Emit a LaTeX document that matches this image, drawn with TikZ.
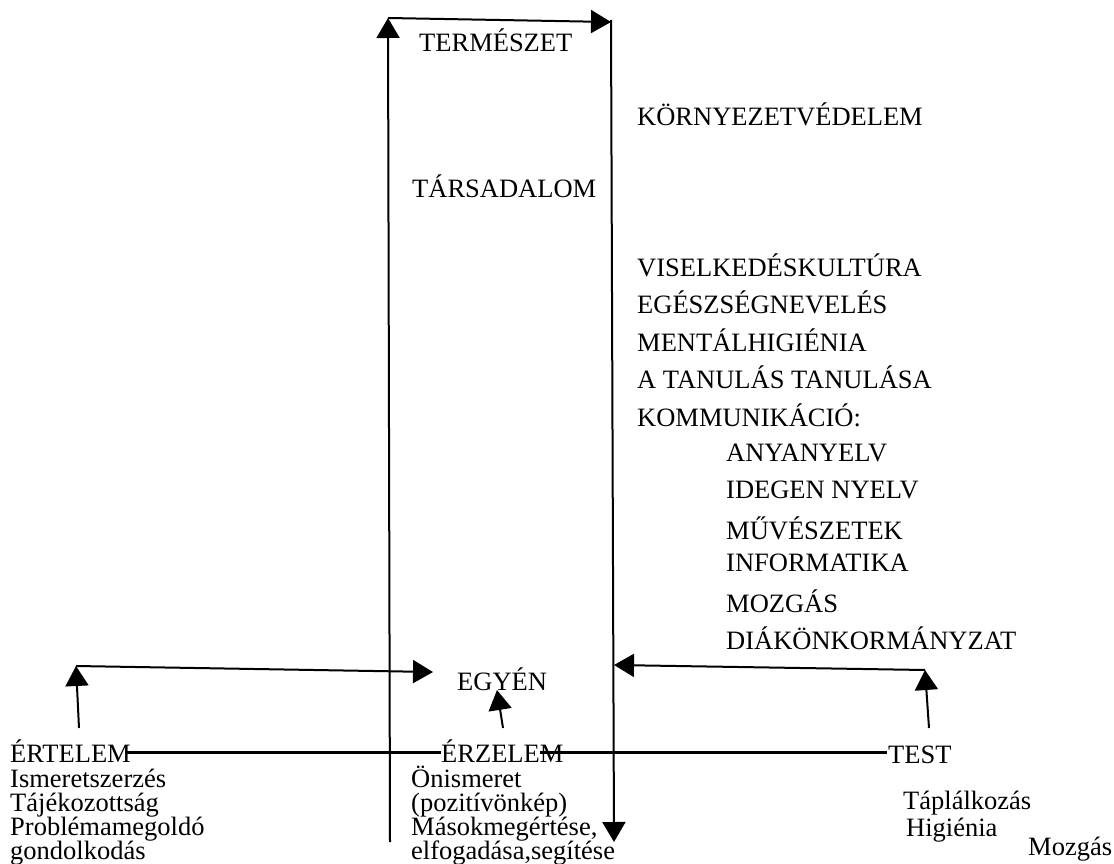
\documentclass[tikz,border=0pt]{standalone}
\usepackage{fontspec}
\setmainfont{Liberation Serif}
\usetikzlibrary{arrows.meta}
\begin{document}
\begin{tikzpicture}[x=1pt,y=-1pt,
  lbl/.style={anchor=base west,inner sep=0pt,font=\fontsize{26.5}{28}\selectfont},
  arr/.style={line width=2pt,-{Triangle[length=20pt,width=23pt]}},
  thick line/.style={line width=3pt}]
\useasboundingbox (0,0) rectangle (1114,864);
% top frame
\coordinate (lb) at (390,842);
\coordinate (lt) at (388,18);
\coordinate (ts) at (388,18);
\coordinate (te) at (611,22);
\coordinate (rt) at (611,20);
\coordinate (rb) at (614,842);
\draw[arr] (lb) -- (lt);
\draw[arr] (ts) -- (te);
\draw[arr] (rt) -- (rb);
% texts
\node[lbl] (termeszet) at (419,52) {TERMÉSZET};
\node[lbl] (kornyezet) at (637,126) {KÖRNYEZETVÉDELEM};
\node[lbl] (tarsadalom) at (412,197) {TÁRSADALOM};
\node[lbl] (v1) at (637,276) {VISELKEDÉSKULTÚRA};
\node[lbl] (v2) at (637,313) {EGÉSZSÉGNEVELÉS};
\node[lbl] (v3) at (637,351) {MENTÁLHIGIÉNIA};
\node[lbl] (v4) at (637,388) {A TANULÁS TANULÁSA};
\node[lbl] (v5) at (637,426) {KOMMUNIKÁCIÓ:};
\node[lbl] (v6) at (726,461) {ANYANYELV};
\node[lbl] (v7) at (726,498) {IDEGEN NYELV};
\node[lbl] (v8) at (726,539) {MŰVÉSZETEK};
\node[lbl] (v9) at (726,571) {INFORMATIKA};
\node[lbl] (v10) at (726,612) {MOZGÁS};
\node[lbl] (v11) at (726,649) {DIÁKÖNKORMÁNYZAT};
\node[lbl] (egyen) at (457,690) {EGYÉN};
% horizontal line through labels
\coordinate (hl) at (125,752);
\coordinate (hr) at (887,752);
\draw[thick line] (hl) -- (hr);
% bottom labels
\node[lbl] (ertelem) at (10,762) {ÉRTELEM};
\node[lbl] (e1) at (10,787) {Ismeretszerzés};
\node[lbl] (e2) at (10,811) {Tájékozottság};
\node[lbl] (e3) at (10,835) {Problémamegoldó};
\node[lbl] (e4) at (10,859) {gondolkodás};
\node[lbl,fill=white,inner xsep=0pt,inner ysep=1pt] (erzelem) at (441,762) {ÉRZELE\rlap{M}};
\node[lbl] (z1) at (411,787) {Önismeret};
\node[lbl] (z2) at (411,811) {(pozitívönkép)};
\node[lbl] (z3) at (411,835) {Másokmegértése,};
\node[lbl] (z4) at (411,859) {elfogadása,segítése};
\node[lbl] (test) at (888,763) {TEST};
\node[lbl] (t1) at (903,809) {Táplálkozás};
\node[lbl] (t2) at (906,836) {Higiénia};
\node[lbl] (t3) at (1028,855) {Mozgás};
% arrows toward EGYÉN
\coordinate (la) at (79,728);
\coordinate (lc) at (76,666);
\coordinate (le) at (433,672);
\draw[arr] (la) -- (lc);
\draw[arr] (lc) -- (le);
\coordinate (ra) at (929,728);
\coordinate (rc) at (925,670);
\coordinate (re) at (614,665);
\draw[arr] (ra) -- (rc);
\draw[arr] (rc) -- (re);
\coordinate (ma) at (503,728);
\coordinate (mc) at (497,690);
\draw[arr] (ma) -- (mc);
\end{tikzpicture}
\end{document}
